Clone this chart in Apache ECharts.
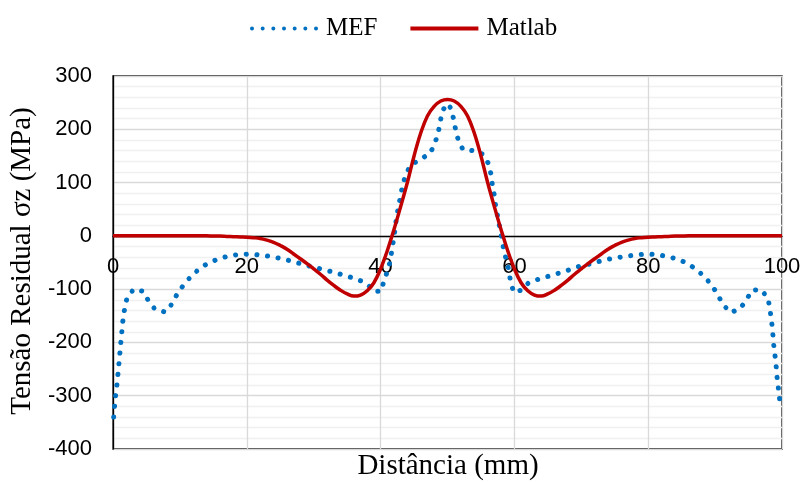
<!DOCTYPE html>
<html>
<head>
<meta charset="utf-8">
<script src="https://cdn.jsdelivr.net/npm/echarts@6/dist/echarts.min.js"></script>
<style>
  html, body { margin: 0; padding: 0; background: #fff; }
  #chart { width: 803px; height: 482px; }
</style>
</head>
<body>
<div id="chart"></div>
<script>
// Axis ticks
const xTicks = [0, 20, 40, 60, 80, 100];
const yTicks = [-400, -300, -200, -100, 0, 100, 200, 300];

// MEF (finite element) residual stress along the distance
const mefX = [0.1, 0.25, 0.4, 0.6, 0.75, 0.9, 1.05, 1.2, 1.35, 1.5, 1.75, 2.1, 3.1, 4.5, 5.3, 6.3, 7.8, 8.8, 9.6, 10.5,
  11.6, 12.8, 14.1, 15.6, 17.2, 18.8, 20.4, 22.1, 23.7, 25.3, 26.9, 28.5, 30.1, 31.7, 33.2, 34.8, 36.4, 37.9, 39.0, 40.1,
  40.5, 41.1, 41.5, 41.7, 42.0, 42.2, 42.4, 42.7, 43.0, 43.3, 43.8, 44.5, 46.0, 47.4, 48.1, 48.6, 48.9, 49.2, 49.9, 50.5,
  50.9, 51.2, 51.6, 52.3, 53.8, 55.3, 56.1, 56.5, 56.7, 57.0, 57.2, 57.5, 57.8, 58.1, 58.4, 58.8, 59.2, 59.4, 59.9, 61.0,
  62.2, 63.7, 65.3, 66.9, 68.4, 70.0, 71.6, 73.2, 74.8, 76.3, 78.0, 79.6, 81.3, 82.9, 84.5, 85.9, 87.3, 88.5, 89.6, 90.4,
  91.2, 92.3, 93.7, 94.7, 95.5, 96.9, 97.9, 98.2, 98.4, 98.6, 98.7, 98.9, 99.1, 99.2, 99.4, 99.6, 99.75];
const mefY = [-340, -318, -298, -278, -258, -238, -217, -196, -176, -156, -136, -116, -100, -104, -122, -138, -143, -128, -109, -93,
  -77, -63, -52, -44, -38, -35, -34, -36, -39, -43, -48, -54, -59, -64, -69, -75, -81, -89, -104, -104,
  -84, -64, -44, -24, -4, 17, 37, 56, 76, 96, 116, 133, 144, 155, 173, 193, 213, 233, 248, 240,
  220, 200, 180, 162, 160, 153, 136, 116, 96, 76, 56, 36, 16, -5, -25, -46, -66, -85, -106, -102,
  -87, -81, -75, -69, -63, -56, -52, -46, -42, -39, -36, -34, -35, -39, -44, -52, -64, -78, -94, -111,
  -129, -144, -137, -120, -102, -101, -117, -137, -157, -177, -198, -219, -239, -259, -280, -300, -324];

// Matlab analytical curve, sampled every 1 mm
const matX = [];
for (let i = 0; i <= 100; i++) matX.push(i);
const matY = [0, 0, 0, 0, 0, 0, 0, 0, 0, 0,
  0, 0, 0, 0, 0, -0.3, -0.5, -1, -1.5, -2,
  -2.5, -3.5, -5, -8, -12, -18, -25, -34, -43, -52,
  -62, -72, -83, -93, -102, -109, -113, -111, -103, -88,
  -62, -28, 12, 55, 100, 150, 193, 225, 243, 253,
  256, 253, 243, 225, 193, 150, 100, 55, 12, -28,
  -62, -88, -103, -111, -113, -109, -102, -93, -83, -72,
  -62, -52, -43, -34, -25, -18, -12, -8, -5, -3.5,
  -2.5, -2, -1.5, -1, -0.5, -0.3, 0, 0, 0, 0,
  0, 0, 0, 0, 0, 0, 0, 0, 0, 0, 0];

const mefData = mefX.map((x, i) => [x, mefY[i]]);
const matData = matX.map((x, i) => [x, matY[i]]);

// Legend icons: a row of dots for MEF, a solid bar for Matlab
const dotCenters = [2, 12.67, 23.33, 34, 44.67, 55.33, 66];
const dotsIcon = 'path://' + dotCenters.map(c =>
  `M${c - 2},2 A2,2 0 1,0 ${c + 2},2 A2,2 0 1,0 ${c - 2},2 Z`).join(' ');
const barIcon = 'path://M0,0 L68,0 L68,4 L0,4 Z';

const gridTop = 76, gridBottom = 33, H = 482;
const yMin = yTicks[0], yMax = yTicks[yTicks.length - 1];
const gridH = H - gridTop - gridBottom;
// x axis sits on the zero line, labels just below it
const xOffset = -gridH * (0 - yMin) / (yMax - yMin);

const chart = echarts.init(document.getElementById('chart'), null, { renderer: 'canvas' });
const sans = 'Liberation Sans, Arial, sans-serif';
const serif = 'Liberation Serif, Times New Roman, serif';

chart.setOption({
  animation: false,
  backgroundColor: '#ffffff',
  grid: {
    left: 113, right: 21, top: gridTop, bottom: gridBottom,
    outerBoundsMode: 'none', containLabel: false,
    show: true, borderColor: '#000', borderWidth: 1.3, backgroundColor: 'transparent'
  },
  legend: {
    data: [{ name: 'MEF', icon: dotsIcon }, { name: 'Matlab', icon: barIcon }],
    left: 245, top: 11,
    itemWidth: 68, itemHeight: 4, itemGap: 33,
    textStyle: { fontFamily: serif, fontSize: 25, color: '#000', padding: [0, 0, 0, 3] }
  },
  xAxis: {
    type: 'value',
    min: xTicks[0], max: xTicks[xTicks.length - 1], interval: 20,
    position: 'bottom', offset: xOffset,
    axisLine: { onZero: false, lineStyle: { color: '#000', width: 1.3 } },
    axisTick: { show: false },
    axisLabel: { fontFamily: sans, fontSize: 22, color: '#000', margin: 20, showMinLabel: true, showMaxLabel: true },
    splitLine: { show: true, lineStyle: { color: '#d9d9d9', width: 1.3 } }
  },
  yAxis: {
    type: 'value',
    min: yMin, max: yMax, interval: 100,
    axisLine: { show: true, onZero: false, lineStyle: { color: '#000', width: 1.3 } },
    axisTick: { show: false },
    axisLabel: { fontFamily: sans, fontSize: 22, color: '#000', margin: 21 },
    splitLine: { show: true, lineStyle: { color: '#d9d9d9', width: 1.3 } },
    minorTick: { show: false, splitNumber: 5 },
    minorSplitLine: { show: true, lineStyle: { color: '#f0f0f0', width: 1.3 } }
  },
  graphic: [
    {
      type: 'text', x: 22, y: 261, rotation: Math.PI / 2,
      style: { text: 'Tensão Residual σz (MPa)', font: '29px ' + serif, fill: '#000', align: 'center', verticalAlign: 'middle' }
    },
    {
      type: 'text', x: 448, y: 466,
      style: { text: 'Distância (mm)', font: '29px ' + serif, fill: '#000', align: 'center', verticalAlign: 'middle' }
    }
  ],
  series: [
    {
      name: 'MEF', type: 'line', data: mefData,
      showSymbol: false, symbol: 'none', smooth: false,
      lineStyle: { color: '#0070C0', width: 5, type: [0.1, 10.6], cap: 'round' },
      itemStyle: { color: '#0070C0' }
    },
    {
      name: 'Matlab', type: 'line', data: matData,
      showSymbol: false, symbol: 'none', smooth: 0.4,
      lineStyle: { color: '#C00000', width: 3.5 },
      itemStyle: { color: '#C00000' }
    }
  ]
});
</script>
</body>
</html>
